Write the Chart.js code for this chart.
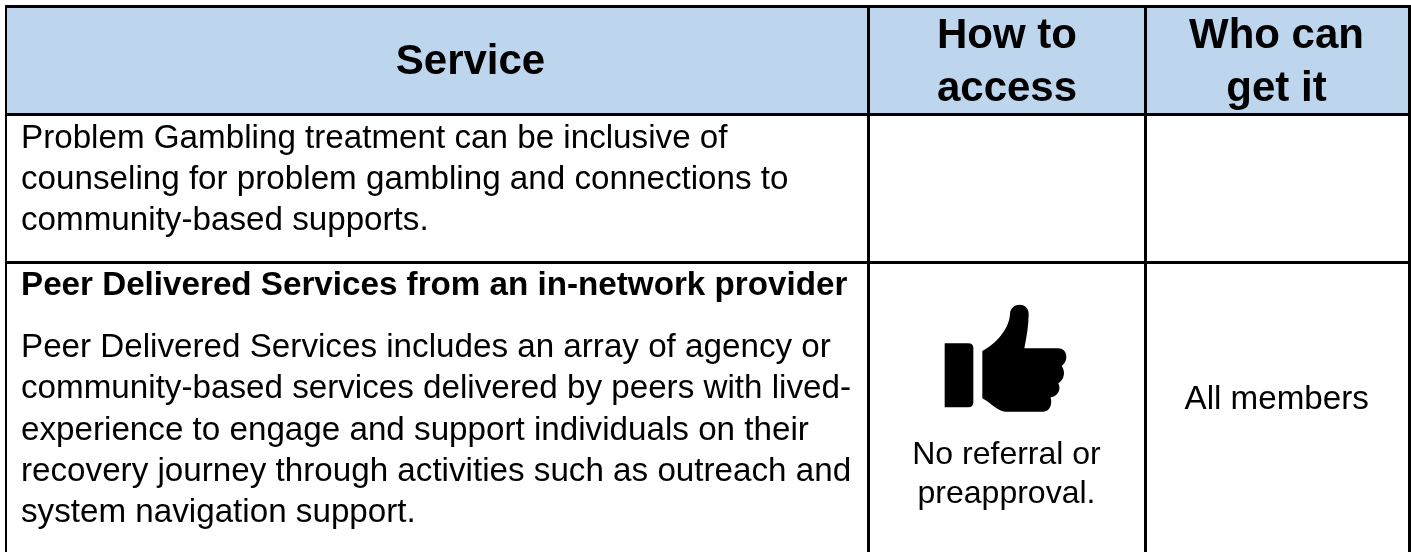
<!DOCTYPE html>
<html>
<head>
<meta charset="utf-8">
<style>
html, body { margin: 0; padding: 0; background: #fff; overflow: hidden; }
canvas { display: block; }
</style>
<script src="https://cdn.jsdelivr.net/npm/chart.js@4"></script>
</head>
<body>
<canvas id="myChart" width="1411" height="552"></canvas>
<script>
// table structure, in the picture's own units
var columnEdges = [6, 868.5, 1145.5, 1409.5]
var rowEdges = [6.5, 114.5, 262.5]

var headers = [
    ['Service'],
    ['How to', 'access'],
    ['Who can', 'get it']
]
var problemLines = [
    'Problem Gambling treatment can be inclusive of',
    'counseling for problem gambling and connections to',
    'community-based supports.'
]
var peerTitle = ['Peer Delivered Services from an in-network provider']
var peerLines = [
    'Peer Delivered Services includes an array of agency or',
    'community-based services delivered by peers with lived-',
    'experience to engage and support individuals on their',
    'recovery journey through activities such as outreach and',
    'system navigation support.'
]
var accessLines = ['No referral or', 'preapproval.']
var whoLines = ['All members']

var textBlocks = []
function addLines(lines, x, firstBaseline, step, align, weight, size) {
    lines.forEach((line, i) => {
        textBlocks.push({ line, x, y: firstBaseline + i * step, align, weight, size })
    })
}
addLines(headers[0], 470.5, 73.5, 0, 'center', 'bold', 42)
addLines(headers[1], 1007, 48, 53, 'center', 'bold', 42)
addLines(headers[2], 1276.5, 48, 53, 'center', 'bold', 42)
addLines(problemLines, 21, 148, 41, 'left', 'normal', 33.2)
addLines(peerTitle, 21, 295, 0, 'left', 'bold', 33.2)
addLines(peerLines, 21, 357, 41.3, 'left', 'normal', 33.2)
addLines(accessLines, 1006.5, 464, 39, 'center', 'normal', 32)
addLines(whoLines, 1276.7, 409, 0, 'center', 'normal', 33.2)

// polegar: desenhado num canvas e usado como pointStyle
function thumbIcon() {
    var c = document.createElement('canvas')
    c.width = 150
    c.height = 130
    var g = c.getContext('2d')
    g.scale(1 / 3, 1 / 3)
    g.fillStyle = '#000'
    g.beginPath()
    g.moveTo(44, 160)
    g.lineTo(115, 160)
    g.quadraticCurveTo(130, 160, 130, 175)
    g.lineTo(130, 337)
    g.quadraticCurveTo(130, 352, 115, 352)
    g.lineTo(44, 352)
    g.closePath()
    g.fill()
    g.beginPath()
    g.moveTo(157, 183)
    g.bezierCurveTo(200, 160, 238, 115, 240, 72)
    g.bezierCurveTo(242, 35, 296, 35, 296, 72)
    g.bezierCurveTo(296, 105, 290, 140, 283, 175)
    g.lineTo(385, 175)
    g.bezierCurveTo(412, 175, 418, 212, 395, 228)
    g.bezierCurveTo(408, 245, 402, 270, 385, 280)
    g.bezierCurveTo(395, 300, 382, 320, 362, 322)
    g.bezierCurveTo(368, 345, 358, 365, 340, 365)
    g.lineTo(225, 365)
    g.bezierCurveTo(200, 362, 185, 340, 157, 325)
    g.closePath()
    g.fill()
    return c
}

var tableText = {
    id: 'tableText',
    afterDatasetsDraw(chart) {
        var ctx = chart.ctx
        var xs = chart.scales.x
        var ys = chart.scales.y
        ctx.save()
        ctx.fillStyle = '#000'
        ctx.textBaseline = 'alphabetic'
        textBlocks.forEach(t => {
            ctx.font = t.weight + ' ' + t.size + 'px "Liberation Sans", Arial, sans-serif'
            ctx.textAlign = t.align
            ctx.fillText(t.line, xs.getPixelForValue(t.x), ys.getPixelForValue(t.y))
        })
        ctx.restore()
    }
}

function ruleDefaults(width) {
    return { type: 'line', borderColor: '#000', borderWidth: width, pointRadius: 0, clip: false, order: 1 }
}

var verticalRules = columnEdges.map((x, i) => ({
    ...ruleDefaults(i === 0 ? 2 : 3),
    data: [{ x, y: 5 }, { x, y: 552 }]
}))
var horizontalRules = rowEdges.map(y => ({
    ...ruleDefaults(3),
    data: [{ x: 5, y }, { x: 1411, y }]
}))

new Chart(document.getElementById('myChart').getContext('2d'), {
    type: 'scatter',
    data: {
        datasets: [
            {
                // fundo do cabeçalho
                type: 'line',
                data: [{ x: columnEdges[0], y: rowEdges[0] }, { x: columnEdges[3], y: rowEdges[0] }],
                fill: { value: rowEdges[1] },
                backgroundColor: '#bdd6ee',
                borderWidth: 0,
                pointRadius: 0,
                order: 3
            },
            ...verticalRules,
            ...horizontalRules,
            {
                data: [{ x: 1005, y: 355 }],
                pointStyle: thumbIcon(),
                order: 0
            }
        ]
    },
    plugins: [tableText],
    options: {
        responsive: false,
        animation: false,
        layout: { padding: 0, autoPadding: false },
        plugins: { legend: { display: false }, tooltip: { enabled: false } },
        scales: {
            x: { type: 'linear', min: 0, max: 1411, display: false },
            y: { type: 'linear', min: 0, max: 552, reverse: true, display: false }
        }
    }
})
</script>
</body>
</html>
